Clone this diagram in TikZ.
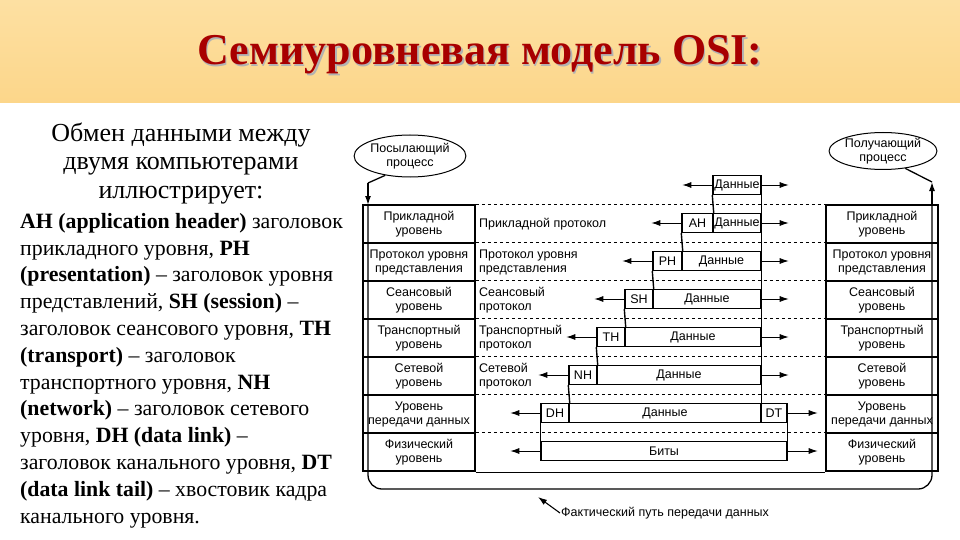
\documentclass[tikz,border=0pt]{standalone}
\usepackage{fontspec}
\setmainfont{Liberation Serif}
\newfontfamily\arialfont{Liberation Sans}
\usetikzlibrary{arrows.meta,positioning,shapes.geometric}
\definecolor{bandtop}{RGB}{253,224,162}
\definecolor{bandbot}{RGB}{252,214,138}
\definecolor{titlered}{RGB}{168,0,0}

\begin{document}
\begin{tikzpicture}[x=1pt,y=-1pt,
  lbl/.style={font=\arialfont\fontsize{12.5}{14}\selectfont},
  lvl/.style={lbl,draw,line width=1.8pt,minimum width=112pt,minimum height=38pt,inner sep=0pt,align=center},
  cell/.style={lbl,draw,line width=1.4pt,minimum height=19pt,inner sep=0pt},
  proto/.style={lbl,anchor=west,align=left,inner sep=0pt},
  rowsep/.style={dashed,line width=0.8pt},
  blk/.style={line width=1.4pt},
  arr/.style={-{Latex[length=9pt,width=6pt]},line width=0.9pt},
  route/.style={line width=1.3pt},
  titlefont/.style={font=\bfseries\fontsize{44}{44}\selectfont,anchor=base}]
\useasboundingbox (0,0) rectangle (960,540);

% banner
\shade[top color=bandtop,bottom color=bandbot] (0,0) rectangle (960,103);
\node[titlefont,text=black!30] (titleshadow) at (481.5,66.5) {Семиуровневая модель OSI:};
\node[titlefont,text=titlered] (title) at (480,65) {Семиуровневая модель OSI:};

% text on the left
\node[align=center,font=\fontsize{26}{28.5}\selectfont] (intro) at (181,163.5)
  {Обмен данными между\\двумя компьютерами\\иллюстрирует:};
\node[align=left,anchor=west,inner sep=0pt,font=\fontsize{21.8}{26.8}\selectfont] (legend) at (20,370.5)
  {\textbf{AH (application header)} заголовок\\
   прикладного уровня, \textbf{PH}\\
   \textbf{(presentation)} – заголовок уровня\\
   представлений, \textbf{SH (session)} –\\
   заголовок сеансового уровня, \textbf{TH}\\
   \textbf{(transport)} – заголовок\\
   транспортного уровня, \textbf{NH}\\
   \textbf{(network)} – заголовок сетевого\\
   уровня, \textbf{DH (data link)} –\\
   заголовок канального уровня, \textbf{DT}\\
   \textbf{(data link tail)} – хвостовик кадра\\
   канального уровня.};

% the two stacks of levels
\foreach \k/\txt in {0/{Прикладной\\уровень},1/{Протокол уровня\\представления},
                     2/{Сеансовый\\уровень},3/{Транспортный\\уровень},
                     4/{Сетевой\\уровень},5/{Уровень\\передачи данных},
                     6/{Физический\\уровень}}{
  \node[lvl] (L\k) at (419,{224+38*\k}) {\txt};
  \node[lvl] (R\k) at (882,{224+38*\k}) {\txt};
  \draw[rowsep] (L\k.north east) -- (R\k.north west);
}
\draw[line width=0.8pt] (L6.south east) -- (R6.south west);

\foreach \k/\txt in {0/{Прикладной протокол},1/{Протокол уровня\\представления},
                     2/{Сеансовый\\протокол},3/{Транспортный\\протокол},
                     4/{Сетевой\\протокол}}
  \node[proto] (P\k) at (479,{224+38*\k}) {\txt};

% headers and data
\node[cell,minimum width=48pt] (dtop) at (737,185) {Данные};
\foreach \k/\h/\xa/\xb in {0/AH/682/713,1/PH/653/682,2/SH/625/653,
                           3/TH/597/625,4/NH/569/597,5/DH/541/569}{
  \node[cell,minimum width=\xb-\xa] (h\k) at ({(\xa+\xb)/2},{223+38*\k}) {\h};
  \node[cell,minimum width=761-\xb] (d\k) at ({(\xb+761)/2},{223+38*\k}) {Данные};
}
\node[cell,minimum width=26pt] (dt) at (774,413) {DT};
\node[cell,minimum width=246pt] (bits) at (664,451) {Биты};

\draw[blk] (dtop.south west) -- (h0.north east);
\draw[blk] (dtop.south east) -- (d0.north east);
\foreach \k [evaluate=\k as \j using int(\k-1)] in {1,...,5}{
  \draw[blk] (h\j.south west) -- (h\k.north east);
  \draw[blk] (d\j.south east) -- (d\k.north east);
}
\draw[blk] (h5.south west) -- (bits.north west);
\draw[blk] (dt.south east) -- (bits.north east);

% protocol arrows
\foreach \n in {dtop,h0,h1,h2,h3,h4,h5,bits}{
  \coordinate[left=30pt of \n] (to\n);
  \draw[arr] (\n.west) -- (to\n);
}
\foreach \n/\d in {dtop/27pt,d0/27pt,d1/27pt,d2/27pt,d3/27pt,d4/27pt,dt/30pt,bits/30pt}{
  \coordinate[right=\d of \n] (fr\n);
  \draw[arr] (\n.east) -- (fr\n);
}

% processes and the real path
\node[lbl,ellipse,draw,line width=1pt,minimum width=101pt,minimum height=42pt,
      inner sep=0pt,align=center] (send) at (410,156) {Посылающий\\процесс};
\node[lbl,ellipse,draw,line width=1pt,minimum width=94pt,minimum height=37pt,
      inner sep=0pt,align=center] (recv) at (883,151) {Получающий\\процесс};
\coordinate (sIn) at (368,183);
\coordinate (sTop) at (368,205);
\coordinate (rTop) at (932,205);
\coordinate (rOut) at (932,182);
\draw[route] (send.218) -- (sIn);
\draw[arr,route] (sIn) -- (sTop);
\draw[route,rounded corners=14pt] (sTop) -- (368,489) -- (932,489) -- (rTop);
\draw[arr,route] (rTop) -- (rOut);
\draw[route] (rOut) -- (recv.322);

\node[lbl,anchor=west,inner sep=1pt] (fact) at (560,513) {Фактический путь передачи данных};
\coordinate (factTip) at (538,497);
\draw[arr,line width=1.1pt] (fact.west) -- (factTip);
\end{tikzpicture}
\end{document}
